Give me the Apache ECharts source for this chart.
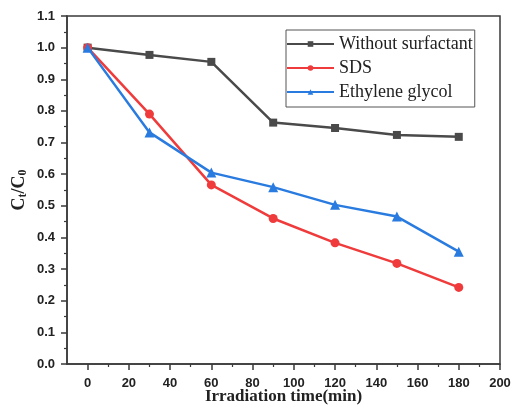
<!DOCTYPE html>
<html>
<head>
<meta charset="utf-8">
<script src="https://cdn.jsdelivr.net/npm/echarts@6/dist/echarts.min.js"></script>
<style>
  html, body { margin: 0; padding: 0; background: #fff; }
  #chart { width: 513px; height: 406px; }
</style>
</head>
<body>
<div id="chart"></div>
<script>
// Irradiation time (min)
const times = [0, 30, 60, 90, 120, 150, 180];
// Ct/C0 for each condition
const withoutSurfactant = [1.0, 0.977, 0.955, 0.763, 0.746, 0.724, 0.718];
const sds = [1.0, 0.790, 0.566, 0.460, 0.383, 0.318, 0.242];
const ethyleneGlycol = [1.0, 0.732, 0.605, 0.559, 0.503, 0.466, 0.355];
const seriesNames = ['Without surfactant', 'SDS', 'Ethylene glycol'];
const xTickLabels = [0, 20, 40, 60, 80, 100, 120, 140, 160, 180, 200];
const xMinorTicks = [10, 30, 50, 70, 90, 110, 130, 150, 170, 190];

const pair = (ys) => times.map((t, i) => [t, ys[i]]);

const axisColor = '#3a3a3a';
const labelFont = { fontFamily: 'Liberation Sans', fontWeight: 'bold', fontSize: 13, color: '#222' };

const chart = echarts.init(document.getElementById('chart'));
chart.setOption({
  animation: false,
  backgroundColor: '#fff',
  grid: {
    left: 67, right: 13, top: 16, bottom: 42,
    show: true, borderColor: axisColor, borderWidth: 1.5,
    containLabel: false,
    outerBoundsMode: 'none'
  },
  legend: {
    orient: 'vertical',
    left: 286, top: 30,
    padding: [4, 2, 5, 0],
    itemGap: 4,
    itemWidth: 47, itemHeight: 7,
    borderColor: '#555', borderWidth: 1,
    borderRadius: 0,
    backgroundColor: '#fff',
    textStyle: { fontFamily: 'Liberation Serif', fontSize: 18, lineHeight: 20, color: '#222' },
    data: seriesNames
  },
  xAxis: [
    {
      type: 'value',
      min: -10, max: 200,
      name: 'Irradiation time(min)',
      nameLocation: 'middle',
      nameGap: 24,
      nameMoveOverlap: false,
      nameTextStyle: { fontFamily: 'Liberation Serif', fontWeight: 'bold', fontSize: 17, color: '#222' },
      axisLine: { show: true, onZero: false, lineStyle: { color: axisColor, width: 1.5 } },
      axisTick: { show: true, inside: false, length: 6, customValues: xTickLabels, lineStyle: { color: axisColor, width: 1.5 } },
      axisLabel: { customValues: xTickLabels, margin: 13, ...labelFont },
      splitLine: { show: false }
    },
    {
      // minor ticks between the labelled ones
      type: 'value',
      position: 'bottom',
      min: -10, max: 200,
      axisLine: { show: false, onZero: false },
      axisTick: { show: true, inside: false, length: 3, customValues: xMinorTicks, lineStyle: { color: axisColor, width: 1.2 } },
      axisLabel: { show: false },
      splitLine: { show: false }
    }
  ],
  yAxis: {
    type: 'value',
    min: 0, max: 1.1, interval: 0.1,
    name: '{b|C}{s|t}{b|/C}{s|0}',
    nameLocation: 'middle',
    nameGap: 38,
    nameMoveOverlap: false,
    nameRotate: 90,
    nameTextStyle: {
      rich: {
        b: { fontFamily: 'Liberation Serif', fontWeight: 'bold', fontSize: 18, color: '#222' },
        s: { fontFamily: 'Liberation Serif', fontWeight: 'bold', fontSize: 12, color: '#222', verticalAlign: 'bottom', padding: [8, 0, 0, 0] }
      }
    },
    axisLine: { show: true, onZero: false, lineStyle: { color: axisColor, width: 1.5 } },
    axisTick: { show: true, inside: false, length: 6, lineStyle: { color: axisColor, width: 1.5 } },
    minorTick: { show: true, splitNumber: 2, length: 3, lineStyle: { color: axisColor, width: 1.2 } },
    axisLabel: { margin: 12, formatter: (v) => v.toFixed(1), ...labelFont },
    splitLine: { show: false }
  },
  series: [
    {
      name: seriesNames[0], type: 'line', data: pair(withoutSurfactant),
      symbol: 'rect', symbolSize: 8,
      lineStyle: { color: '#4a4a4a', width: 2.5 },
      itemStyle: { color: '#4a4a4a' }
    },
    {
      name: seriesNames[1], type: 'line', data: pair(sds),
      symbol: 'circle', symbolSize: 9,
      lineStyle: { color: '#ef3b3b', width: 2.5 },
      itemStyle: { color: '#ef3b3b' }
    },
    {
      name: seriesNames[2], type: 'line', data: pair(ethyleneGlycol),
      symbol: 'triangle', symbolSize: 10,
      lineStyle: { color: '#2a7be0', width: 2.5 },
      itemStyle: { color: '#2a7be0' }
    }
  ]
});
</script>
</body>
</html>
